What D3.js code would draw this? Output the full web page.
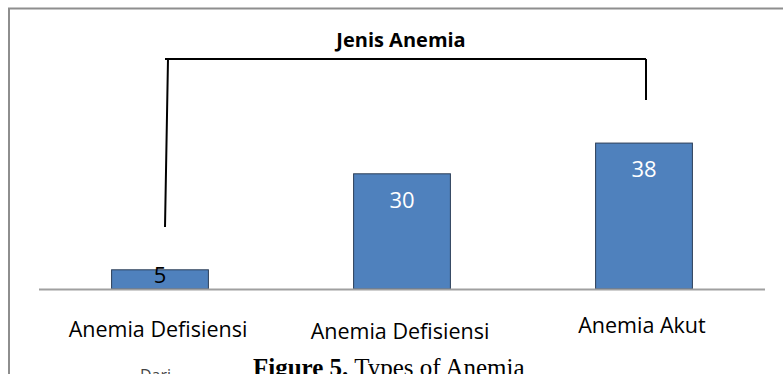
<!DOCTYPE html>
<html>
<head>
<meta charset="utf-8">
<script src="https://cdn.jsdelivr.net/npm/d3@7"></script>
<style>
  html, body { margin: 0; padding: 0; background: #fff; }
  svg { display: block; }
</style>
</head>
<body>
<svg id="chart" width="783" height="374"></svg>
<script>
// Jenis anemia: counts per category
const categories = ["Anemia Defisiensi", "Anemia Defisiensi ", "Anemia Akut"];
const axisLabels = ["Anemia Defisiensi", "Anemia Defisiensi", "Anemia Akut"];
const values = [5, 30, 38];
const chartTitle = "Jenis Anemia";
const captionBold = "Figure 5.";
const captionText = "Types of Anemia";

const svg = d3.select("#chart");
const W = 783, H = 374;

const x = d3.scaleBand().domain(categories).range([39, 765]).paddingInner(0.6).paddingOuter(0.3);
const y = d3.scaleLinear().domain([0, 40]).range([289, 135.4]);

// chart frame (top and left edge)
svg.append("path")
  .attr("d", `M9,${H} L9,8.5 L${W},8.5`)
  .attr("fill", "none").attr("stroke", "#8e8e8e").attr("stroke-width", 2);

// title
svg.append("text")
  .attr("x", 401).attr("y", 47)
  .attr("text-anchor", "middle")
  .attr("font-family", "'Open Sans', sans-serif")
  .attr("font-weight", "bold").attr("font-size", 20)
  .attr("fill", "#000")
  .text(chartTitle);

// bracket connector from the title
svg.append("path")
  .attr("d", "M165,59 L646,59 M168,59 L165,227 M646,59 L646,100")
  .attr("fill", "none").attr("stroke", "#000").attr("stroke-width", 2);

// bars
svg.selectAll("rect.bar").data(values).join("rect")
  .attr("class", "bar")
  .attr("x", (d, i) => x(categories[i]))
  .attr("width", x.bandwidth())
  .attr("y", d => y(d))
  .attr("height", d => y(0) - y(d))
  .attr("fill", "#4f81bd")
  .attr("stroke", "#2b3d57").attr("stroke-width", 1);

// category axis line
svg.append("line")
  .attr("x1", 39).attr("x2", 765).attr("y1", 289.5).attr("y2", 289.5)
  .attr("stroke", "#a0a0a0").attr("stroke-width", 2);

// value labels
svg.selectAll("text.val").data(values).join("text")
  .attr("class", "val")
  .attr("x", (d, i) => x(categories[i]) + x.bandwidth() / 2)
  .attr("y", d => d < 10 ? y(d) + 13 : y(d) + 34)
  .attr("text-anchor", "middle")
  .attr("font-family", "'Open Sans', sans-serif")
  .attr("font-size", 22)
  .attr("fill", d => d < 10 ? "#000" : "#fff")
  .text(d => d);

// category labels
const labelDy = [0, 1.5, -4];
svg.selectAll("text.cat").data(axisLabels).join("text")
  .attr("class", "cat")
  .attr("x", (d, i) => x(categories[i]) + x.bandwidth() / 2 - 2)
  .attr("y", (d, i) => 337 + labelDy[i])
  .attr("text-anchor", "middle")
  .attr("font-family", "'Open Sans', sans-serif")
  .attr("font-size", 21.5)
  .attr("fill", "#000")
  .text(d => d);

// caption below the chart
const cap = svg.append("text")
  .attr("x", 253).attr("y", 376)
  .attr("font-family", "'Liberation Serif', serif")
  .attr("font-size", 25)
  .attr("fill", "#000");
cap.append("tspan").attr("font-weight", "bold").text(captionBold);
cap.append("tspan").text(" " + captionText);

svg.append("text")
  .attr("x", 140).attr("y", 381)
  .attr("font-family", "'Open Sans', sans-serif")
  .attr("font-size", 16)
  .attr("fill", "#444")
  .text("Dari");
</script>
</body>
</html>
